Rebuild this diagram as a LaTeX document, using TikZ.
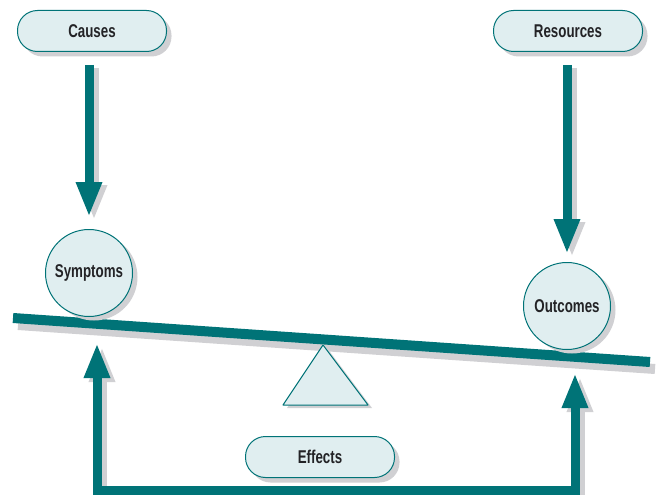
\documentclass[tikz,border=0pt]{standalone}
\usepackage{fontspec}
\setmainfont{Liberation Sans}[FakeStretch=0.72]
\usetikzlibrary{arrows.meta,shadows}
\definecolor{tealc}{RGB}{0,115,119}
\definecolor{palec}{RGB}{224,238,240}
\definecolor{shadec}{RGB}{208,208,211}
\definecolor{inkc}{RGB}{35,35,38}
\begin{document}
\begin{tikzpicture}[x=1pt,y=-1pt,
  lbl/.style={font=\bfseries\fontsize{18.5}{21}\selectfont, text=inkc},
  pill/.style={lbl, draw=tealc, line width=1pt, fill=palec, rounded corners=20pt,
    minimum width=149pt, minimum height=41pt,
    drop shadow={shadow xshift=5pt, shadow yshift=-5pt, fill=shadec, opacity=1}},
  ball/.style={lbl, circle, draw=tealc, line width=1pt, fill=palec, minimum size=87pt, inner sep=0pt,
    drop shadow={shadow xshift=5pt, shadow yshift=-4pt, fill=shadec, opacity=1}},
  tip/.tip={Triangle[width=24pt,length=35pt]},
  flow/.style={draw=tealc, line width=9pt, -tip},
  flowshade/.style={draw=shadec, line width=9pt, -tip, transform canvas={xshift=5pt, yshift=-3pt}},
  beam/.style={draw=tealc, line width=10pt},
]
\useasboundingbox (0,0) rectangle (656,495);

% nodes
\node[pill] (causes) at (92,31) {Causes};
\node[pill] (resources) at (568,31) {Resources};
\node[pill] (effects) at (320,457) {Effects};

% beam and fulcrum
\coordinate (beamL) at (13,318);
\coordinate (beamR) at (650,362);
\coordinate (apex) at (323,345);
\coordinate (baseL) at (283,405);
\coordinate (baseR) at (368,405);
\draw[draw=shadec, line width=10pt] ([shift={(5,7)}]beamL) -- ([shift={(5,7)}]beamR);
\fill[shadec] ([shift={(4,3)}]apex) -- ([shift={(4,3)}]baseR) -- ([shift={(4,3)}]baseL) -- cycle;
\draw[draw=tealc, line width=1pt, fill=palec, line join=round] (apex) -- (baseR) -- (baseL) -- cycle;
\draw[beam] (beamL) -- (beamR);

\node[ball] (symptoms) at (89,273) {Symptoms};
\node[ball] (outcomes) at (567,306) {Outcomes};

% bottom feedback connector
\coordinate (tipL) at (97,343);
\coordinate (cornL) at (97,490);
\coordinate (cornR) at (575,490);
\coordinate (tipR) at (575,373);
\draw[draw=shadec, line width=9pt, tip-tip, line join=miter, transform canvas={xshift=5pt, yshift=-4pt}] (tipL) -- (cornL) -- (cornR) -- (tipR);
\draw[draw=tealc, line width=9pt, tip-tip, line join=miter] (tipL) -- (cornL) -- (cornR) -- (tipR);

% arrows from top boxes
\draw[flowshade, shorten <=13pt, shorten >=12pt] (causes.south -| symptoms) -- (symptoms.north);
\draw[flowshade, shorten <=13pt, shorten >=8pt] (resources.south -| outcomes) -- (outcomes.north);
\draw[flow, shorten <=13pt, shorten >=12pt] (causes.south -| symptoms) -- (symptoms.north);
\draw[flow, shorten <=13pt, shorten >=8pt] (resources.south -| outcomes) -- (outcomes.north);
\end{tikzpicture}
\end{document}
